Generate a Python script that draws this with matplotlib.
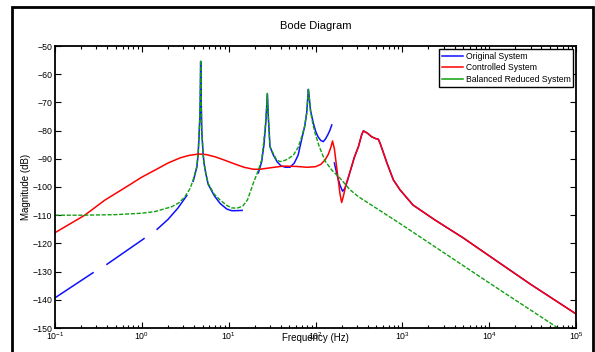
import numpy as np
import matplotlib
matplotlib.use('Agg')
import matplotlib.pyplot as plt
from matplotlib.lines import Line2D
from matplotlib.patches import Rectangle

plt.rcParams['font.family'] = ['Liberation Sans', 'DejaVu Sans']

# Controlled system (red)
ctrl_f = np.array([0.1, 0.22, 0.377, 0.7, 1.0, 1.42, 2.0, 2.8, 3.5, 4.5, 5.5, 7, 9, 11.2, 15,
                   19.2, 23, 30, 42, 60, 80, 100, 115, 129, 140, 150, 157, 165, 175, 191,
                   200, 209, 225, 250, 280, 312, 340, 356, 400, 443, 490, 530, 553, 600,
                   665, 789, 940, 1327, 2377, 5000, 1e4, 3e4, 1e5])
ctrl_db = np.array([-116.2, -110, -104.6, -99.5, -96.5, -94.0, -91.5, -89.6, -88.8, -88.3,
                    -88.5, -89.3, -90.5, -91.6, -93.0, -93.7, -93.7, -93.2, -92.6, -92.7,
                    -93.0, -92.8, -92.0, -90.4, -88.5, -86.0, -83.7, -86.5, -92.8, -102.2,
                    -105.5, -103.4, -99.0, -94.6, -89.5, -85.7, -81.5, -80.1, -81.0, -82.2,
                    -82.8, -83.1, -84.4, -87.5, -91.5, -97.5, -101.0, -106.4, -111.7, -118.0,
                    -124.4, -134.5, -145.0])

# Original system (blue), nan = gaps in the trace
orig_f_low = np.array([0.1, 0.274, np.nan, 0.397, 1.06, np.nan, 1.5, 2.0, 2.6, 3.3, np.nan,
                       3.9, 4.3, 4.45, 4.56, 4.65, 4.7, 4.76, 4.82, 4.9, 5.07, 5.2, 5.4, 5.8,
                       6.8, 7.95, 9.5, 10.8, 12.0, 14.3, np.nan, 22, 24, 25.5, 26.8, 27.9, 28.5,
                       29.9, 32.5, 36, 40, 45, 50.8, 57, 63.1, 69.4, 75, 79, 82.8, 84.5, 87.8,
                       94.5, 101, 107, 115, 123, 130, 138, 146, 154, np.nan, 165, 178, 191, 205,
                       218, 235])
orig_db_low = np.array([-139.3, -130.4, np.nan, -127.4, -118.3, np.nan, -115.0, -111.5, -107.5,
                        -103.0, np.nan, -98.0, -93.0, -88.5, -82.0, -76.0, -70.0, -55.5, -68.0,
                        -80.0, -88.0, -91.5, -94.5, -99.0, -103.0, -105.8, -107.8, -108.4,
                        -108.4, -108.3, np.nan, -95.0, -91.0, -85.0, -77.0, -67.0, -74.0, -85.7,
                        -88.5, -91.0, -92.5, -93.0, -93.0, -91.5, -88.7, -83.0, -78.5, -74.0,
                        -65.4, -68.0, -73.0, -77.4, -80.5, -82.2, -83.5, -83.9, -83.0, -81.6,
                        -80.0, -78.0, np.nan, -91.5, -96.0, -99.3, -101.5, -100.5, -97.5])
orig_f = np.concatenate([orig_f_low, ctrl_f[ctrl_f >= 250]])
orig_db = np.concatenate([orig_db_low, ctrl_db[ctrl_f >= 250]])

# Balanced reduced system (green)
red_f = np.array([0.1, 0.2, 0.5, 1.0, 1.42, 2.21, 2.7, 3.14, 3.6, 3.9, 4.29, 4.45, 4.56, 4.65,
                  4.7, 4.76, 4.82, 4.86, 4.9, 5.07, 5.2, 5.4, 5.8, 6.8, 7.95, 9.5, 10.8, 12.5,
                  14.5, 16.5, 19.2, 22, 24, 25, 26.5, 27.4, 27.9, 28.5, 29.9, 32.5, 35.5, 39,
                  45, 50, 55.6, 63, 69.4, 75, 79, 81.5, 82.8, 84.5, 87.8, 93, 99, 110, 129,
                  154, 192, 250, 311, 530, 1000, 1e4, 6.2e4, 1e5])
red_db = np.array([-110.0, -110.0, -109.8, -109.3, -108.7, -107.0, -105.5, -103.4, -100.5,
                   -97.5, -92.8, -88.0, -81.0, -75.0, -70.0, -55.0, -68.0, -75.0, -80.0,
                   -88.0, -91.5, -94.5, -98.7, -102.5, -104.6, -106.5, -107.4, -107.5,
                   -106.8, -104.5, -98.7, -94.0, -90.4, -85.7, -78.0, -72.0, -66.8, -74.0,
                   -85.7, -88.0, -90.3, -91.0, -90.5, -89.7, -88.7, -86.0, -82.2, -78.5,
                   -73.9, -69.0, -65.4, -68.0, -73.3, -77.5, -81.0, -85.5, -90.8, -94.0,
                   -96.9, -101.0, -103.4, -108.0, -113.5, -134.0, -150.0, -154.0])

labels = ['Original System', 'Controlled System', 'Balanced Reduced System']
colors = ['#1010ff', '#ff0000', '#10a010']

fig = plt.figure(figsize=(5.95, 3.52), dpi=100)
ax = fig.add_axes([55/595, 1-328/352, (576-55)/595, (328-46)/352])

ax.semilogx(orig_f, orig_db, color=colors[0], lw=1.1)
ax.semilogx(ctrl_f, ctrl_db, color=colors[1], lw=1.1)
ax.semilogx(red_f, red_db, color=colors[2], lw=1.0, linestyle=(0, (3, 1.2)))

ax.set_xlim(0.1, 1e5)
ax.set_ylim(-150, -50)
ax.set_yticks(np.arange(-150, -49, 10))
ax.tick_params(which='both', direction='in', top=True, right=True, labelsize=6.3,
               width=0.8, pad=2)
ax.tick_params(which='major', length=4)
ax.tick_params(which='minor', length=2.5)
for s in ax.spines.values():
    s.set_linewidth(1.3)

ax.set_title('Bode Diagram', fontsize=8, y=1.03)
ax.set_xlabel('Frequency (Hz)', fontsize=7)
ax.xaxis.set_label_coords(0.5, -0.018)
ax.set_ylabel('Magnitude (dB)', fontsize=7)
ax.yaxis.set_label_coords(-0.047, 0.5)

handles = [Line2D([], [], color=c, lw=1.1) for c in colors]
leg = ax.legend(handles, labels, loc='upper right', fontsize=6.2, fancybox=False,
                framealpha=1, edgecolor='black', borderaxespad=0.3, borderpad=0.35,
                labelspacing=0.3, handlelength=2.4, handletextpad=0.3)
leg.get_frame().set_linewidth(1.0)

fig.patches.append(Rectangle((12/595, -0.1), (593-12)/595, 1.08, transform=fig.transFigure,
                             fill=False, edgecolor='black', lw=2))

fig.savefig('out.png', dpi=100)
